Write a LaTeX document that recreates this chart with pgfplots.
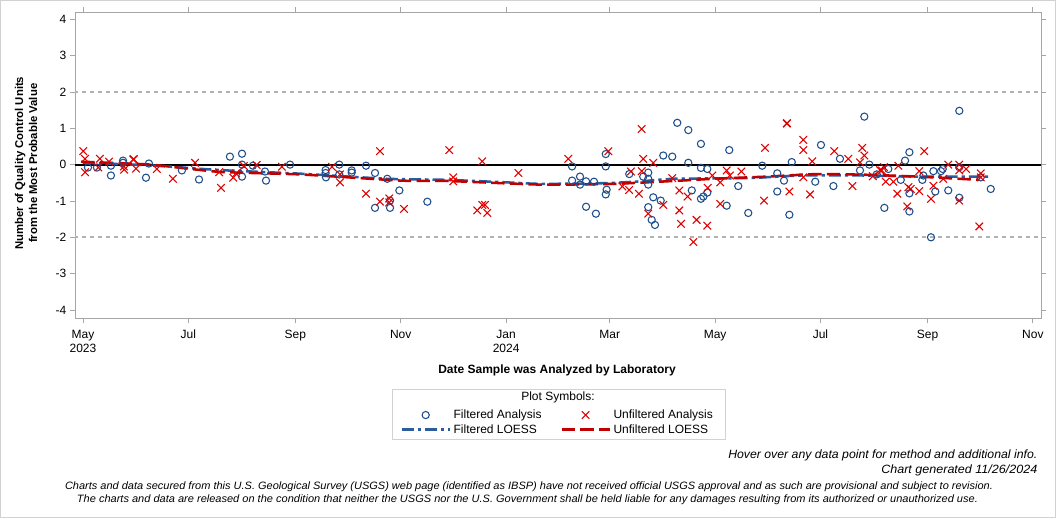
\documentclass[border=0pt]{standalone}
\usepackage{pgfplots}
\pgfplotsset{compat=1.18}
\usepackage{graphicx}
\usepackage{fontspec}
\setmainfont{Liberation Sans}
\definecolor{fblue}{HTML}{1F4E8C}
\definecolor{xred}{HTML}{E00000}
\definecolor{lblue}{HTML}{2B5C9E}
\definecolor{lred}{HTML}{C00000}
\pgfplotsset{
  markleg/.style={legend image code/.code={\draw[mark repeat=2,mark phase=2,##1] plot coordinates {(0pt,0pt) (18pt,0pt) (36pt,0pt)};}},
  lineleg/.style={legend image code/.code={\draw[##1] (0pt,0pt) -- (36pt,0pt);}},
}
\begin{document}
\begin{tikzpicture}[x=1pt,y=1pt]
\draw[gray!35,line width=0.75pt] (0.375,0.375) rectangle (791.625,388.125);
\begin{axis}[
  at={(56.25pt,150pt)}, anchor=south west,
  scale only axis, width=724.5pt, height=229pt,
  xmin=-4.6, xmax=554.7, ymin=-4.22, ymax=4.18,
  axis line style={gray!70, line width=0.6pt},
  tick style={gray!70, line width=0.6pt},
  tick align=outside, major tick length=4pt,
  xtick={0,61,123,184,245,305,366,427,489,550},
  xticklabels={{May\\2023},Jul,Sep,Nov,{Jan\\2024},Mar,May,Jul,Sep,Nov},
  xticklabel style={align=center, anchor=north, font=\fontsize{9}{10.5}\selectfont, yshift=-1.5pt},
  ytick={-4,-3,-2,-1,0,1,2,3,4},
  yticklabel style={font=\fontsize{9}{10}\selectfont, xshift=1pt},
  /pgf/number format/assume math mode=true,
  clip=true,
  legend columns=2,
  legend cell align=left,
  legend style={at={(0.5,-0.282)}, anchor=north, draw=none, fill=none,
    font=\fontsize{9}{10}\selectfont,
    /tikz/every even column/.append style={column sep=12pt},
    row sep=-1pt},
]
\addplot[forget plot, gray!60, dash pattern=on 3.5pt off 2.5pt, line width=1.5pt] coordinates {(-10,2) (560,2)};
\addplot[forget plot, gray!60, dash pattern=on 3.5pt off 2.5pt, line width=1.5pt] coordinates {(-10,-2) (560,-2)};
\addplot[forget plot, black, line width=1.6pt] coordinates {(-10,0) (560,0)};
% Filtered analysis
\addplot[only marks, mark=o, mark size=2.7pt, color=fblue, mark options={line width=0.8pt}, markleg]
coordinates {
(2.9,-0.08)(8.1,-0.08)(16.2,-0.03)(16.2,-0.30)(23.2,0.11)(23.2,0.05)(38.2,0.03)(36.5,-0.36)
(57.3,-0.16)(67.2,-0.41)(85.1,0.22)(92.1,0.30)(92.1,0.0)(92.1,-0.33)(98.4,-0.03)(105.4,-0.19)
(106.0,-0.44)(119.9,0.0)(140.5,-0.15)(140.5,-0.23)(140.7,-0.35)(148.4,0.0)(148.4,-0.27)
(155.6,-0.16)(155.6,-0.22)(163.9,-0.03)(169.1,-0.23)(169.1,-1.19)(176.2,-0.39)(177.8,-1.19)
(177.8,-0.99)(183.2,-0.71)(199.4,-1.02)(283.2,-0.05)(283.2,-0.44)(287.8,-0.33)(287.8,-0.55)
(291.3,-0.46)(295.9,-0.47)(291.3,-1.16)(297.0,-1.35)(302.7,0.29)(302.7,-0.05)(303.2,-0.69)
(302.7,-0.82)(316.3,-0.26)(324.4,-0.33)(327.3,-0.22)(327.3,-0.39)(327.3,-0.55)(330.2,-0.90)
(327.3,-1.17)(329.3,-1.52)(331.2,-1.66)(334.5,-0.99)(336.0,0.25)(341.2,0.22)(344.1,1.15)
(350.5,0.95)(350.5,0.05)(352.5,-0.71)(357.8,0.57)(357.8,-0.09)(361.5,-0.12)(361.5,-0.77)
(359.2,-0.88)(357.8,-0.94)(372.7,-1.13)(374.2,0.40)(379.4,-0.59)(385.2,-1.33)(393.3,-0.03)
(402.0,-0.24)(402.0,-0.74)(405.9,-0.44)(409.0,-1.38)(410.4,0.07)(424.0,-0.47)(427.3,0.54)
(434.5,-0.59)(438.3,0.16)(449.9,-0.16)(452.4,1.32)(455.3,0.0)(459.6,-0.27)(464.0,-1.19)
(466.3,-0.12)(473.5,-0.42)(476.0,0.11)(478.5,0.34)(478.5,-0.79)(478.5,-1.29)(486.0,-0.42)
(486.6,-0.30)(492.4,-0.18)(493.5,-0.74)(496.8,-0.18)(497.8,-0.12)(501.0,-0.71)(491.0,-2.0)
(507.4,1.48)(507.4,-0.07)(507.4,-0.91)(519.8,-0.35)(525.6,-0.67)
};
\addlegendentry{Filtered Analysis}
% Unfiltered analysis
\addplot[only marks, mark=x, mark size=4pt, color=xred, mark options={line width=0.8pt}, markleg]
coordinates {
(0.2,0.37)(1.2,0.16)(1.2,-0.21)(9.8,0.16)(8.9,-0.08)(15.1,0.08)(23.7,-0.05)(23.9,-0.14)
(29.1,0.14)(29.5,0.15)(30.7,-0.11)(42.8,-0.12)(52.1,-0.39)(64.9,0.05)(78.9,-0.21)(79.9,-0.64)
(87.0,-0.36)(88.6,-0.24)(93.2,-0.04)(100.6,-0.01)(115.2,-0.06)(144.2,-0.06)(148.8,-0.27)
(148.8,-0.49)(163.9,-0.80)(172.0,0.37)(172.0,-1.02)(177.3,-0.93)(177.3,-1.04)(185.9,-1.22)
(212.1,0.40)(214.4,-0.35)(214.4,-0.46)(231.2,0.09)(231.2,-1.11)(232.8,-1.11)(228.3,-1.26)
(234.1,-1.33)(252.1,-0.23)(281.0,0.16)(304.2,0.37)(323.5,0.98)(324.4,0.16)(330.2,0.05)
(317.3,-0.19)(323.5,-0.18)(312.3,-0.60)(316.2,-0.70)(321.9,-0.80)(327.3,-1.35)(336.0,-1.11)
(341.2,-0.37)(345.3,-0.71)(350.1,-0.88)(345.3,-1.26)(346.3,-1.63)(355.3,-1.52)(361.5,-1.68)
(353.4,-2.13)(361.7,-0.64)(364.4,-0.30)(369.0,-0.49)(369.0,-1.08)(372.7,-0.16)(374.6,-0.30)
(381.2,-0.19)(394.9,0.46)(394.3,-0.99)(407.5,1.13)(407.6,1.14)(409.0,-0.74)(417.1,0.68)
(417.1,0.40)(417.1,-0.35)(422.3,0.09)(421.0,-0.82)(435.0,0.37)(443.1,0.16)(445.5,-0.59)
(449.9,0.06)(451.2,0.46)(452.4,0.25)(457.3,-0.32)(461.5,-0.15)(462.5,-0.16)(463.8,-0.07)
(464.8,-0.47)(469.2,-0.47)(472.1,-0.03)(471.5,-0.80)(477.9,-0.62)(479.3,-0.67)(477.3,-1.15)
(484.2,-0.18)(484.2,-0.73)(487.1,0.37)(491.0,-0.94)(492.4,-0.58)(498.1,-0.39)(501.0,0.0)
(507.4,0.0)(507.4,-0.16)(507.4,-0.99)(511.3,-0.12)(519.8,-0.24)(519.8,-0.35)(519.0,-1.70)
};
\addlegendentry{Unfiltered Analysis}
% Filtered LOESS
\addplot[lblue, line width=1.9pt, dash pattern=on 9pt off 3pt on 2.5pt off 3pt, smooth, tension=0.3, lineleg] coordinates {
(0,0.05)(39,-0.02)(79,-0.15)(126,-0.25)(176,-0.39)(211,-0.42)(246,-0.49)(265,-0.53)
(303,-0.51)(323,-0.46)(342,-0.39)(386,-0.37)(415,-0.30)(454,-0.30)(483,-0.33)(525,-0.33)
};
\addlegendentry{Filtered LOESS}
% Unfiltered LOESS
\addplot[lred, line width=1.9pt, dash pattern=on 10pt off 4pt, smooth, tension=0.3, lineleg] coordinates {
(-1,0.08)(39,0.0)(79,-0.2)(126,-0.27)(184,-0.44)(211,-0.45)(265,-0.55)(307,-0.53)
(346,-0.44)(365,-0.39)(396,-0.33)(425,-0.26)(454,-0.28)(483,-0.33)(519,-0.42)
};
\addlegendentry{Unfiltered LOESS}
\end{axis}
% axis titles
\node[font=\bfseries\fontsize{8.5}{10.5}\selectfont, align=center, rotate=90] at (19.5pt,266pt)
  {Number of Quality Control Units\\from the Most Probable Value};
\node[font=\bfseries\fontsize{9}{10}\selectfont] at (417.75pt,111pt) {Date Sample was Analyzed by Laboratory};
% legend frame and title
\draw[gray!35, line width=0.75pt] (294pt,96.75pt) rectangle (543.75pt,59.25pt);
\node[font=\fontsize{9}{10}\selectfont] at (418.5pt,90.5pt) {Plot Symbols:};
% footer
\node[anchor=east, font=\itshape\fontsize{9}{10}\selectfont] at (781.5pt,47pt)
  {\resizebox{231.75pt}{\height}{Hover over any data point for method and additional info.}};
\node[anchor=east, font=\itshape\fontsize{9}{10}\selectfont] at (781.5pt,36pt)
  {\resizebox{117pt}{\height}{Chart generated 11/26/2024}};
\node[font=\itshape\fontsize{8}{9}\selectfont] at (396.75pt,23.25pt)
  {\resizebox{696pt}{\height}{Charts and data secured from this U.S. Geological Survey (USGS) web page (identified as IBSP) have not received official USGS approval and as such are provisional and subject to revision.}};
\node[font=\itshape\fontsize{8}{9}\selectfont] at (395.6pt,13.5pt)
  {\resizebox{675.75pt}{\height}{The charts and data are released on the condition that neither the USGS nor the U.S. Government shall be held liable for any damages resulting from its authorized or unauthorized use.}};
\end{tikzpicture}
\end{document}
